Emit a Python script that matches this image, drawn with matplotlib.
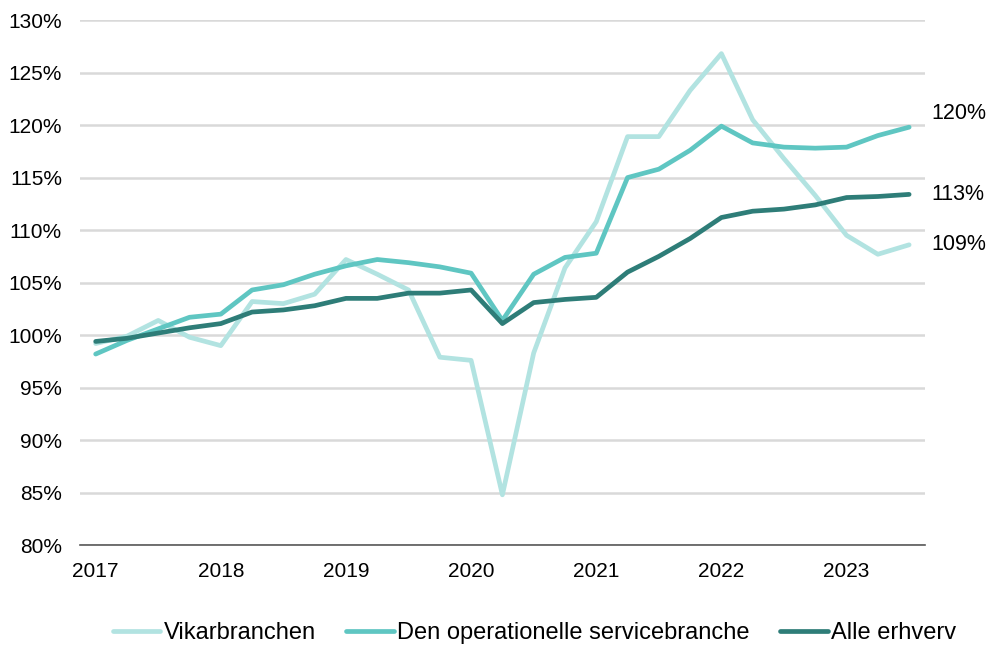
import matplotlib
matplotlib.use("Agg")
import matplotlib.pyplot as plt
from matplotlib.ticker import FuncFormatter

plt.rcParams["font.family"] = ["Liberation Sans", "DejaVu Sans"]

# Quarterly index (2017Q1 = first point), 2017Q1 .. 2023Q3
years = ["2017", "2018", "2019", "2020", "2021", "2022", "2023"]

vikar = [99.2, 99.9, 101.4, 99.8, 99.0, 103.2, 103.0, 103.9, 107.2, 105.8, 104.3,
         97.9, 97.6, 84.8, 98.3, 106.4, 110.8, 118.9, 118.9, 123.3, 126.8, 120.5,
         116.8, 113.3, 109.5, 107.7, 108.6]
service = [98.2, 99.5, 100.6, 101.7, 102.0, 104.3, 104.8, 105.8, 106.6, 107.2, 106.9,
           106.5, 105.9, 101.4, 105.8, 107.4, 107.8, 115.0, 115.8, 117.6, 119.9, 118.3,
           117.9, 117.8, 117.9, 119.0, 119.8]
alle = [99.4, 99.7, 100.2, 100.7, 101.1, 102.2, 102.4, 102.8, 103.5, 103.5, 104.0,
        104.0, 104.3, 101.1, 103.1, 103.4, 103.6, 106.0, 107.5, 109.2, 111.2, 111.8,
        112.0, 112.4, 113.1, 113.2, 113.4]
end_labels = ["120%", "113%", "109%"]

c_light = "#b2e3e1"
c_mid = "#5fc6c2"
c_dark = "#2e7d78"

fig = plt.figure(figsize=(9.88, 6.46), dpi=100)
ax = fig.add_axes([0.081, 0.156, 0.855, 0.813])

x = list(range(len(alle)))
ax.plot(x, vikar, color=c_light, lw=3.4, label="Vikarbranchen", solid_capstyle="round")
ax.plot(x, service, color=c_mid, lw=3.4, label="Den operationelle servicebranche",
        solid_capstyle="round")
ax.plot(x, alle, color=c_dark, lw=3.4, label="Alle erhverv", solid_capstyle="round")

ax.set_xlim(-0.5, 26.5)
ax.set_ylim(80, 130)
ax.set_yticks(range(80, 131, 5))
ax.yaxis.set_major_formatter(FuncFormatter(lambda v, p: f"{v:.0f}%"))
ax.set_xticks(range(0, len(alle), 4))
ax.set_xticklabels(years)
ax.tick_params(length=0, labelsize=15, colors="black")
ax.tick_params(axis="x", pad=12)
ax.tick_params(axis="y", pad=13)

ax.grid(axis="y", color="#d9d9d9", lw=1.8)
ax.set_axisbelow(True)
for s in ["top", "right", "left"]:
    ax.spines[s].set_visible(False)
ax.spines["bottom"].set_color("#595959")
ax.spines["bottom"].set_linewidth(1.2)

# end labels on the right
for val, txt in zip([service[-1] + 1.3, alle[-1], vikar[-1]], end_labels):
    ax.annotate(txt, xy=(26.5, val), xytext=(5, 0), textcoords="offset points",
                va="center", ha="left", fontsize=15.5, annotation_clip=False)

fig.legend(loc="lower center", ncol=3, frameon=False, fontsize=17,
           bbox_to_anchor=(0.541, -0.03), handlelength=2.0, handletextpad=0.15,
           columnspacing=1.3)

fig.savefig("out.png", dpi=100)
